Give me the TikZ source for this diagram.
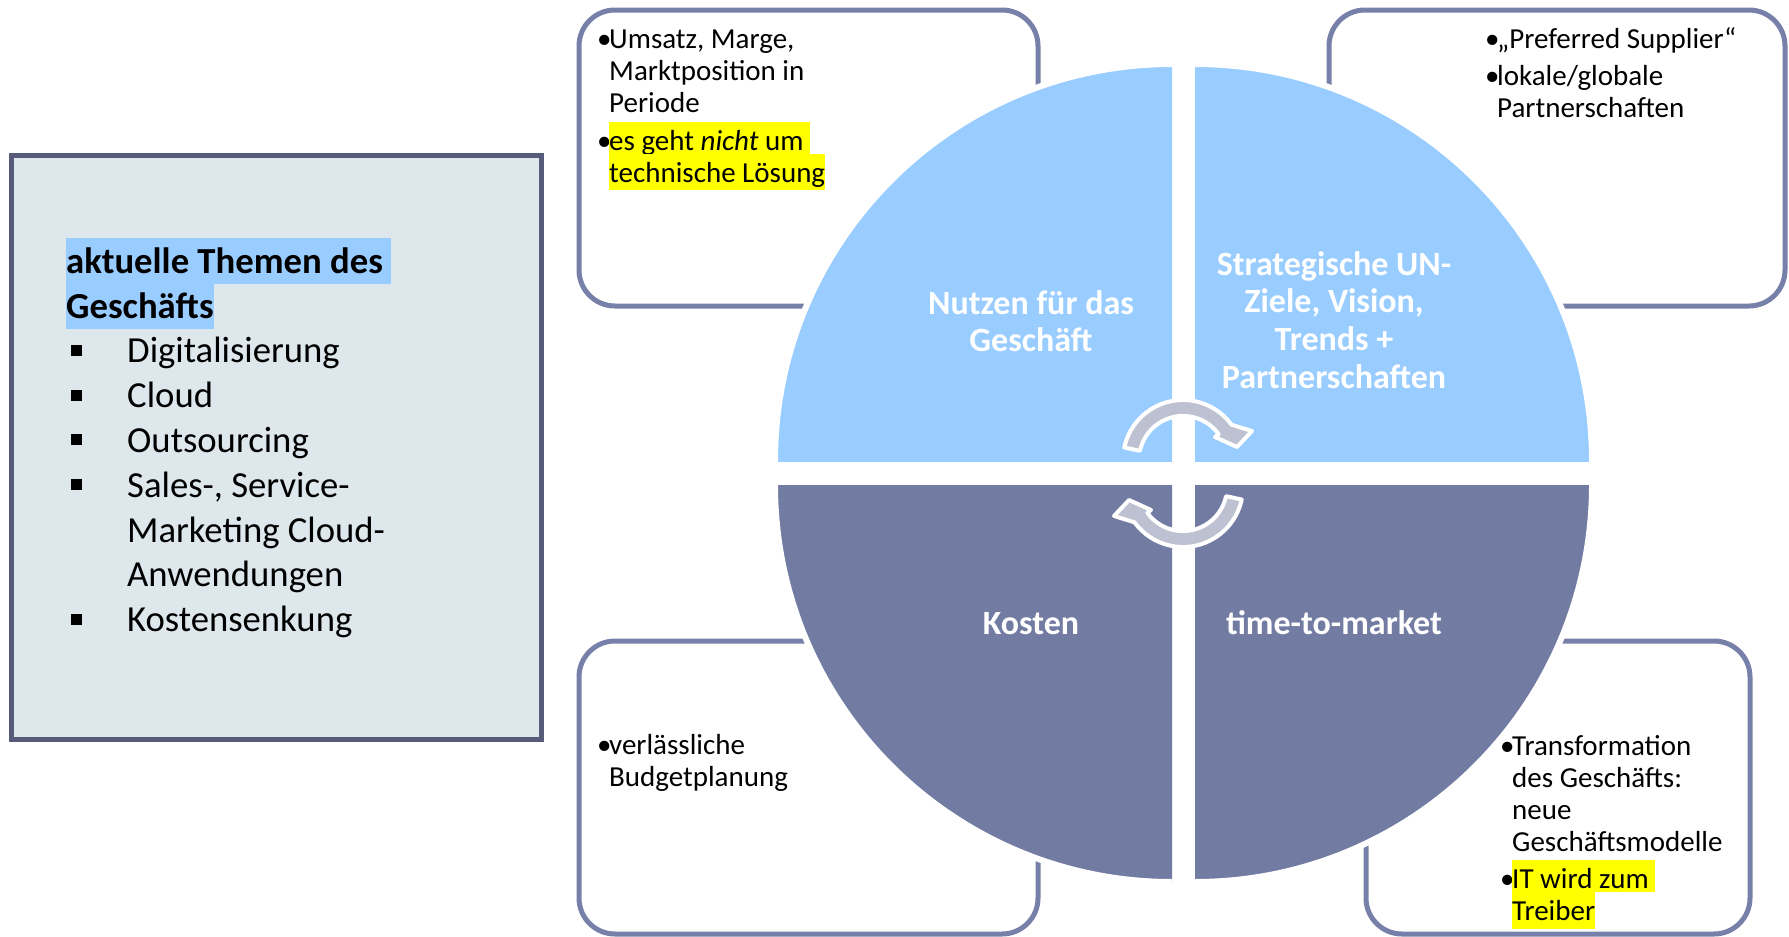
\documentclass[tikz,border=0pt]{standalone}
\usepackage{fontspec}
\setmainfont{Carlito}
\definecolor{lb}{HTML}{99CCFF}
\definecolor{dk}{RGB}{114,123,162}
\definecolor{boxline}{RGB}{118,128,168}
\definecolor{leftfill}{RGB}{221,231,236}
\definecolor{leftline}{RGB}{86,91,122}
\definecolor{arrowc}{RGB}{190,193,209}
\definecolor{hlyellow}{RGB}{255,255,0}
\newcommand\hlb[1]{{\setlength\fboxsep{0pt}\colorbox{lb}{\rule[-11pt]{0pt}{46pt}#1}}}
\newcommand\hly[2]{{\setlength\fboxsep{0pt}\colorbox{hlyellow}{\rule[-#1pt]{0pt}{\dimexpr 28.5pt+#1pt\relax}#2}}}
\newcommand\bul{\llap{\makebox[12pt][l]{•}}}
\newcommand\sqb{\llap{\makebox[56pt][l]{\rule[7pt]{11pt}{11pt}}}}
\newcommand\fl{\rule{0pt}{40pt}}
\newcommand\nolsl{\lineskiplimit-100pt\relax}
\newcommand\fontS{\fontsize{29}{32}\selectfont\nolsl}
\newcommand\fontL{\fontsize{36.7}{44.8}\selectfont\nolsl}
\newcommand\fontB{\fontsize{34}{37.7}\selectfont\bfseries}
\newcommand\cyclearrow{%
  (1124.3,447.5) arc[start angle=192,end angle=324,radius=60]
  -- (1252,431) -- (1237,447) -- (1215,437) -- (1218.6,434.1)
  arc[start angle=324,end angle=192,radius=44] -- cycle}
\tikzset{
  box/.style={draw=boxline, line width=5, rounded corners=36, fill=white},
  quad/.style={draw=white, line width=6},
  arr/.style={fill=arrowc, draw=white, line width=4, line join=round},
  txt/.style={inner sep=0, align=left, text=black, font=\fontS},
  bigtxt/.style={inner sep=0, align=left, text=black, font=\fontL},
  lab/.style={inner sep=0, align=center, text=white, font=\fontB}
}
\begin{document}
\begin{tikzpicture}[x=1pt,y=-1pt]
\useasboundingbox (0,0) rectangle (1789,937);
% boxes behind the circle
\draw[box] (579,10) rectangle (1038,306);
\draw[box] (1329,10) rectangle (1785,306);
\draw[box] (579,641) rectangle (1038,934);
\draw[box] (1366,641) rectangle (1750,934);
% left box
\draw[fill=leftfill, draw=leftline, line width=5] (11,155) rectangle (541,739);
\node[bigtxt, anchor=north west] (themen) at (66,233)
  {\fl\hlb{\textbf{aktuelle Themen des\ }}\\%
   \hlb{\textbf{Geschäfts}}\\%
   \hspace*{61pt}\sqb Digitalisierung\\%
   \hspace*{61pt}\sqb Cloud\\%
   \hspace*{61pt}\sqb Outsourcing\\%
   \hspace*{61pt}\sqb Sales-, Service-\\%
   \hspace*{61pt}Marketing Cloud-\\%
   \hspace*{61pt}Anwendungen\\%
   \hspace*{61pt}\sqb Kostensenkung};
% quadrants
\begin{scope}
  \clip (700,0) rectangle (1172,461);
  \filldraw[quad, fill=lb] (1172,461) circle[radius=397];
\end{scope}
\begin{scope}
  \clip (1195,0) rectangle (1700,461);
  \filldraw[quad, fill=lb] (1195,461) circle[radius=397];
\end{scope}
\begin{scope}
  \clip (700,485) rectangle (1172,937);
  \filldraw[quad, fill=dk] (1172,485) circle[radius=397];
\end{scope}
\begin{scope}
  \clip (1195,485) rectangle (1700,937);
  \filldraw[quad, fill=dk] (1195,485) circle[radius=397];
\end{scope}
% cycle arrows
\path[arr] \cyclearrow;
\begin{scope}[rotate around={180:(1183,473.5)}]
  \path[arr] \cyclearrow;
\end{scope}
% quadrant labels
\node[lab, anchor=north] (nutzen) at (1031,274) {\fl Nutzen für das\\Geschäft};
\node[lab, anchor=north] (strat) at (1334,235) {\fl Strategische UN-\\Ziele, Vision,\\Trends +\\Partnerschaften};
\node[lab, anchor=base] (kosten) at (1031,634) {Kosten};
\node[lab, anchor=base] (ttm) at (1334,634) {time-to-market};
% box texts
\node[txt, anchor=north west] (tltext) at (609,8)
  {\fl\bul Umsatz, Marge,\\Marktposition in\\Periode\\[6pt]%
   \bul\hly{3}{es geht \textit{nicht} um\ }\\\hly{8}{technische Lösung}};
\node[txt, anchor=north west] (trtext) at (1497,8)
  {\fl\bul „Preferred Supplier“\\[5pt]\bul lokale/globale\\Partnerschaften};
\node[txt, anchor=north west] (bltext) at (609,714)
  {\fl\bul verlässliche\\Budgetplanung};
\node[txt, anchor=north west] (brtext) at (1512,715)
  {\fl\bul Transformation\\des Geschäfts:\\neue\\Geschäftsmodelle\\[5pt]%
   \bul\hly{4}{IT wird zum\ }\\\hly{9}{Treiber}};
\end{tikzpicture}
\end{document}
